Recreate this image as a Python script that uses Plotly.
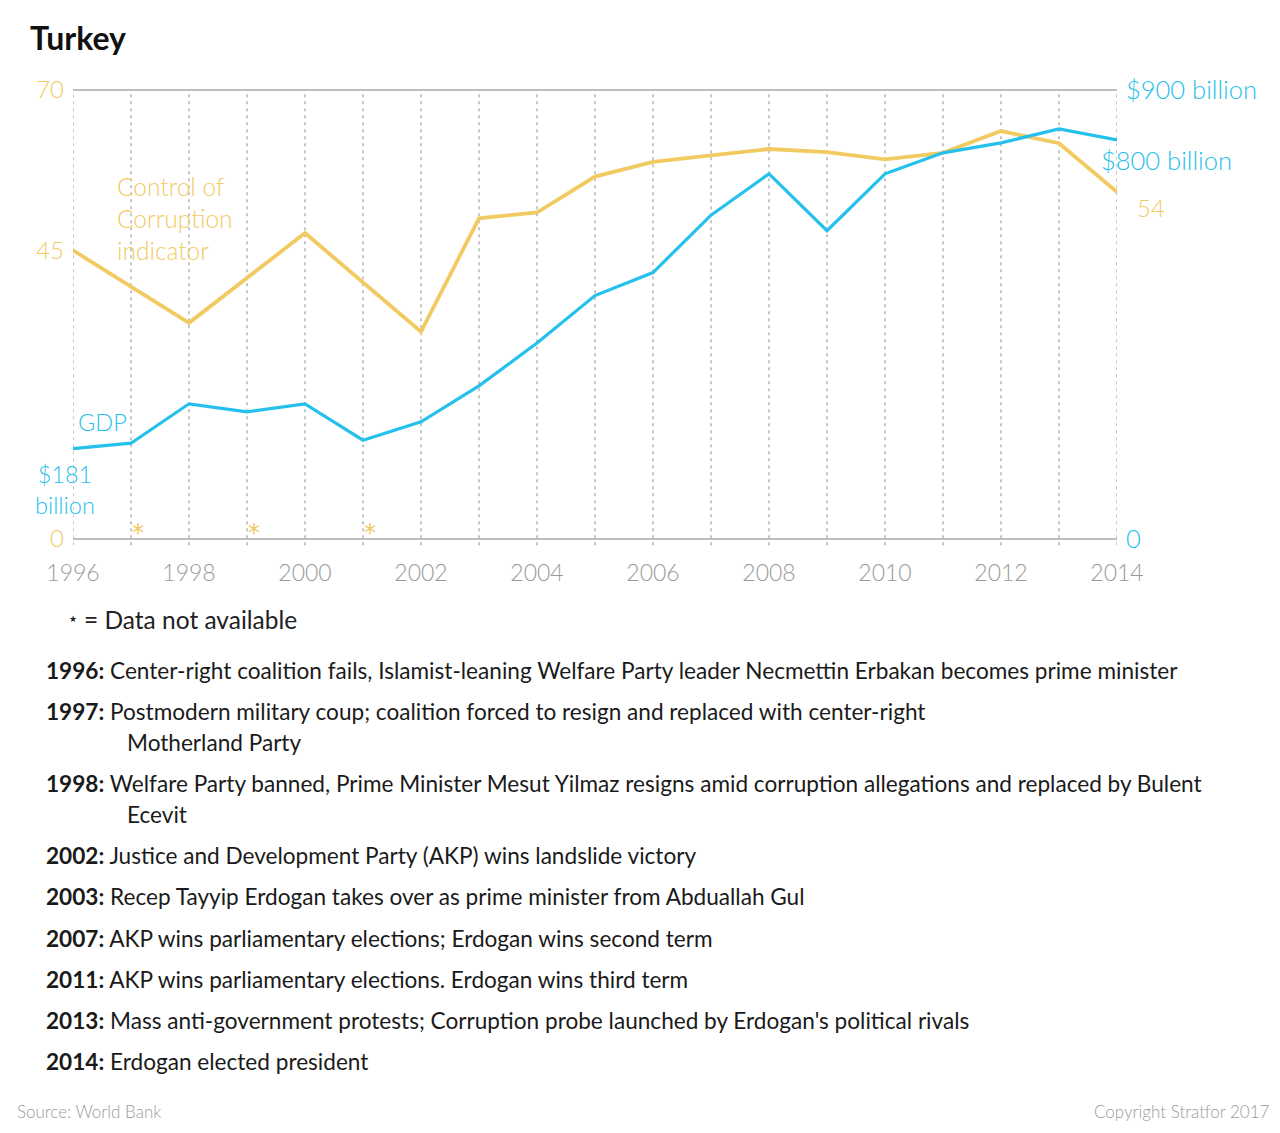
import plotly.graph_objects as go

# ---------------- data ----------------
years = list(range(1996, 2015))
corruption = [45.0, None, 33.7, None, 47.7, None, 32.3, 50.0, 50.9, 56.5,
              58.8, 59.8, 60.8, 60.3, 59.2, 60.2, 63.6, 61.7, 54.1]
gdp = [181, 192, 271, 255, 271, 198, 235, 307, 393, 488,
       534, 649, 732, 618, 732, 774, 794, 822, 800]

left_ticks = [0, 45, 70]
right_ticks = [0, 900]
right_ticktext = ["0", "$900 billion"]
x_ticks = list(range(1996, 2015, 2))

events = [
    ("1996:", ["Center-right coalition fails, Islamist-leaning Welfare Party leader Necmettin Erbakan becomes prime minister"]),
    ("1997:", ["Postmodern military coup; coalition forced to resign and replaced with center-right", "Motherland Party"]),
    ("1998:", ["Welfare Party banned, Prime Minister Mesut Yilmaz resigns amid corruption allegations and replaced by Bulent", "Ecevit"]),
    ("2002:", ["Justice and Development Party (AKP) wins landslide victory"]),
    ("2003:", ["Recep Tayyip Erdogan takes over as prime minister from Abduallah Gul"]),
    ("2007:", ["AKP wins parliamentary elections; Erdogan wins second term"]),
    ("2011:", ["AKP wins parliamentary elections. Erdogan wins third term"]),
    ("2013:", ["Mass anti-government protests; Corruption probe launched by Erdogan's political rivals"]),
    ("2014:", ["Erdogan elected president"]),
]

YEL = "#F2CA62"
BLU = "#26C0EC"
GRAY = "#9A9A9A"
FONT = "Lato"

W, H = 1280, 1133
L, R, T, B = 73, 1117, 90, 539


def xp(px):
    return (px - L) / (R - L)


def yp(py):
    return (B - py) / (B - T)


fig = go.Figure()
fig.add_trace(go.Scatter(x=years, y=corruption, mode="lines", connectgaps=True,
                         line=dict(color=YEL, width=3.8), yaxis="y", hoverinfo="skip"))
fig.add_trace(go.Scatter(x=years, y=gdp, mode="lines",
                         line=dict(color=BLU, width=3.2), yaxis="y2", hoverinfo="skip"))

shapes = []
for yr in years:
    shapes.append(dict(type="line", xref="x", yref="paper", x0=yr, x1=yr, y0=-0.014, y1=1,
                       line=dict(color="#8C8C8C", width=1, dash="3px,4px"), layer="below"))
for yv in (0, 1):
    shapes.append(dict(type="line", xref="paper", yref="paper", x0=0, x1=1, y0=yv, y1=yv,
                       line=dict(color="#BDBDBD", width=2), layer="below"))

ann = []


def light(size, color):
    return dict(family=FONT, size=size, weight=300, color=color)


# asterisks for missing corruption data
for yr, v in zip(years, corruption):
    if v is None:
        ann.append(dict(x=yr, y=0, xref="x", yref="y", text="*", showarrow=False,
                        xshift=7, yshift=6, font=dict(family="DejaVu Sans", size=24, color=YEL)))

ann += [
    dict(x=xp(115), y=yp(218), xref="paper", yref="paper", xanchor="left", yanchor="middle",
         text="Control of<br>Corruption<br>indicator", align="left", showarrow=False,
         font=light(24.5, YEL)),
    dict(x=xp(76), y=yp(422), xref="paper", yref="paper", xanchor="left", yanchor="middle",
         text="GDP", showarrow=False, font=light(23.5, BLU)),
    dict(x=xp(65), y=yp(489), xref="paper", yref="paper", xanchor="center", yanchor="middle",
         text="$181<br>billion", align="center", showarrow=False, font=light(23.5, BLU)),
    dict(x=xp(1099), y=yp(160), xref="paper", yref="paper", xanchor="left", yanchor="middle",
         text="$800 billion", showarrow=False, font=light(25.5, BLU)),
    dict(x=xp(1135), y=yp(207), xref="paper", yref="paper", xanchor="left", yanchor="middle",
         text="54", showarrow=False, font=light(24, YEL)),
    dict(x=xp(28), y=yp(37), xref="paper", yref="paper", xanchor="left", yanchor="middle",
         text="<b>Turkey</b>", showarrow=False, font=dict(family=FONT, size=32, color="#111")),
    dict(x=xp(73), y=yp(619), xref="paper", yref="paper", xanchor="center", yanchor="middle",
         text="★", showarrow=False, font=dict(family="DejaVu Sans", size=9, color="#222")),
    dict(x=xp(82), y=yp(619), xref="paper", yref="paper", xanchor="left", yanchor="middle",
         text="= Data not available",
         showarrow=False, font=dict(family=FONT, size=24.5, color="#222")),
    dict(x=xp(15), y=yp(1111), xref="paper", yref="paper", xanchor="left", yanchor="middle",
         text="Source: World Bank", showarrow=False, font=light(17, GRAY)),
    dict(x=xp(1272), y=yp(1111), xref="paper", yref="paper", xanchor="right", yanchor="middle",
         text="Copyright Stratfor 2017", showarrow=False, font=light(17, GRAY)),
]

ypos = 670
for label, lines in events:
    ann.append(dict(x=xp(44), y=yp(ypos), xref="paper", yref="paper", xanchor="left", yanchor="middle",
                    text=f"<b>{label}</b> {lines[0]}", showarrow=False,
                    font=dict(family=FONT, size=22.6, color="#1a1a1a")))
    for extra in lines[1:]:
        ypos += 31
        ann.append(dict(x=xp(125), y=yp(ypos), xref="paper", yref="paper", xanchor="left", yanchor="middle",
                        text=extra, showarrow=False, font=dict(family=FONT, size=22.6, color="#1a1a1a")))
    ypos += 41.2

fig.update_layout(
    width=W, height=H,
    margin=dict(l=L, r=W - R, t=T, b=H - B, pad=0),
    paper_bgcolor="white", plot_bgcolor="white",
    showlegend=False,
    xaxis=dict(range=[1996, 2014], tickvals=x_ticks, showgrid=False, zeroline=False,
               showline=False, ticks="", ticklabelstandoff=18,
               tickfont=light(23, GRAY)),
    yaxis=dict(range=[0, 70], tickvals=left_ticks, showgrid=False, zeroline=False,
               showline=False, ticks="", ticklabelstandoff=8,
               tickfont=light(24, YEL)),
    yaxis2=dict(range=[0, 900], overlaying="y", side="right", tickvals=right_ticks,
                ticktext=right_ticktext, showgrid=False, zeroline=False, showline=False,
                ticks="", ticklabelstandoff=8,
                tickfont=light(25.5, BLU)),
    shapes=shapes,
    annotations=ann,
)

fig.write_html("out.html")
